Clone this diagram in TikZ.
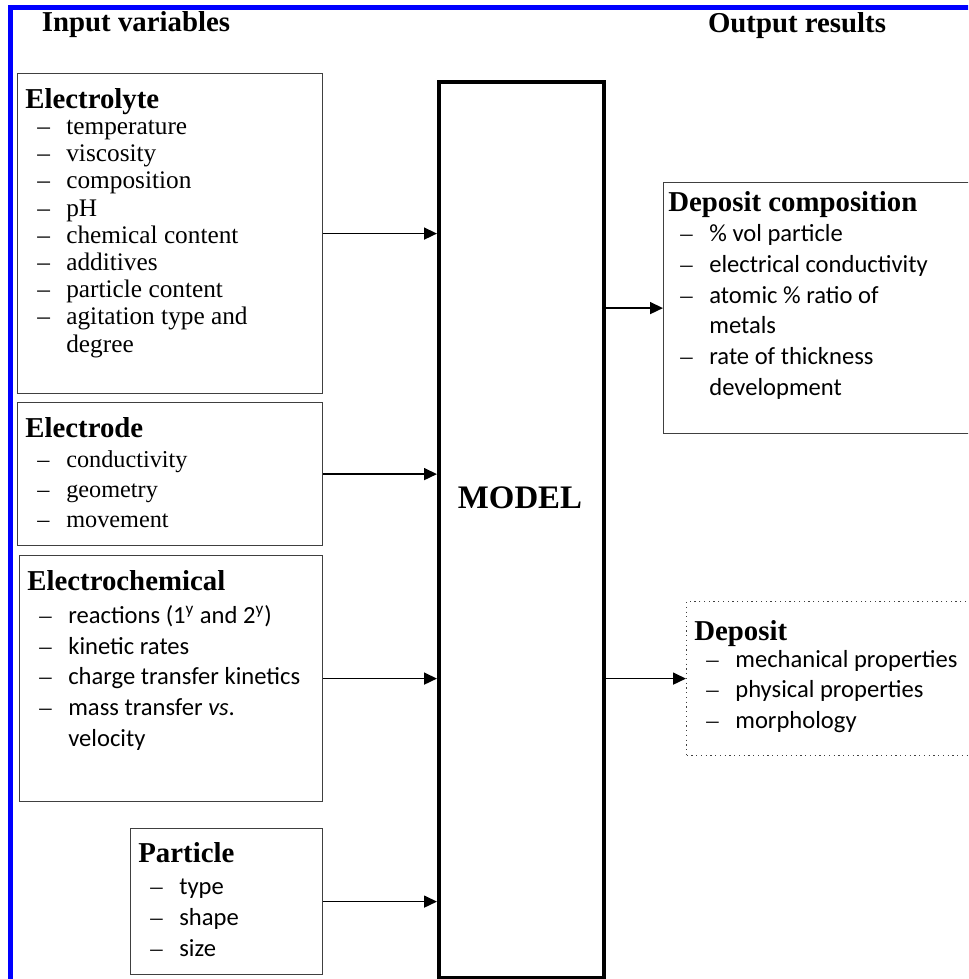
\documentclass[tikz,border=0pt]{standalone}
\usepackage{fontspec}
\setmainfont{Liberation Serif}
\newfontfamily\calibri{Carlito}
\usetikzlibrary{arrows.meta}
\newcommand{\dsh}{\makebox[0.82cm][l]{\hspace{0.24cm}{\rmfamily\textendash}}}
\newcommand{\cont}{\hspace{0.82cm}}
\newcommand{\hd}[1]{{\rmfamily\bfseries\fontsize{16.4}{17}\selectfont #1}}
\begin{document}
\begin{tikzpicture}[x=0.02cm,y=-0.02cm]
\tikzstyle{every node}+=[inner sep=0pt]
\tikzstyle{inbox}=[draw=black!75, line width=0.7pt, anchor=north west]
\tikzstyle{list}=[anchor=north west, align=left]
\tikzstyle{arr}=[line width=1pt, -{Triangle[length=7.4pt,width=6.8pt]}]
\useasboundingbox (0,0) rectangle (968,979);
\clip (0,0) rectangle (968,979);
\draw [blue, line width=0.1cm] (10.5,1100) -- (10.5,7.5) -- (1100,7.5);
\node [font=\bfseries\fontsize{16.4}{17}\selectfont, anchor=base] (inTitle) at (136,32) {Input variables};
\node [font=\bfseries\fontsize{16.4}{17}\selectfont, anchor=base] (outTitle) at (797,33) {Output results};
\node [draw, line width=0.08cm, anchor=north west, minimum width=3.3cm, minimum height=17.92cm] (model) at (437,80) {};
\node [font=\bfseries\fontsize{18.7}{20}\selectfont] (modelLbl) at (520,498) {MODEL};
\node [inbox, minimum width=6.1cm, minimum height=6.4cm] (elyte) at (17,73) {};
\node [list, font=\fontsize{14.4}{15.5}\selectfont] (elyteTxt) at (25,88) {\hd{Electrolyte}\\[-0.7pt]
\dsh temperature\\ \dsh viscosity\\ \dsh composition\\ \dsh pH\\ \dsh chemical content\\
\dsh additives\\ \dsh particle content\\ \dsh agitation type and\\ \cont degree};
\node [inbox, minimum width=6.1cm, minimum height=2.86cm] (electrode) at (17,402) {};
\node [list, font=\fontsize{13.8}{17}\selectfont] (electrodeTxt) at (25,417) {\hd{Electrode}\\[0.3pt]
\dsh conductivity\\ \dsh geometry\\ \dsh movement};
\node [inbox, minimum width=6.06cm, minimum height=4.92cm] (echem) at (19,555) {};
\node [list, font=\calibri\fontsize{14}{17.5}\selectfont] (echemTxt) at (27,570) {\hd{Electrochemical}\\[1.3pt]
\dsh reactions (1\textsuperscript{y} and 2\textsuperscript{y})\\ \dsh kinetic rates\\
\dsh charge transfer kinetics\\ \dsh mass transfer \textit{vs}.\\ \cont velocity};
\node [inbox, minimum width=3.84cm, minimum height=2.92cm] (particle) at (130,828) {};
\node [list, font=\calibri\fontsize{14}{17.6}\selectfont] (particleTxt) at (138,842) {\hd{Particle}\\[0.7pt]
\dsh type\\ \dsh shape\\ \dsh size};
\node [inbox, minimum width=6.4cm, minimum height=5.02cm] (depcomp) at (663,182) {};
\node [list, font=\calibri\fontsize{14}{17.6}\selectfont] (depcompTxt) at (668,191) {\hd{Deposit composition}\\[-0.6pt]
\dsh \% vol particle\\ \dsh electrical conductivity\\ \dsh atomic \% ratio of\\ \cont metals\\
\dsh rate of thickness\\ \cont development};
\node [inbox, dotted, minimum width=6cm, minimum height=3.08cm] (deposit) at (686,601) {};
\node [list, font=\calibri\fontsize{14}{17.6}\selectfont] (depositTxt) at (694,620) {\hd{Deposit}\\[-2.4pt]
\dsh mechanical properties\\ \dsh physical properties\\ \dsh morphology};
\draw [arr] (elyte.east) -- (elyte.east -| model.west);
\draw [arr] (electrode.east) -- (electrode.east -| model.west);
\draw [arr] (echem.east) -- (echem.east -| model.west);
\draw [arr] (particle.east) -- (particle.east -| model.west);
\draw [arr] (depcomp.west -| model.east) -- (depcomp.west);
\draw [arr] (deposit.west -| model.east) -- (deposit.west);
\end{tikzpicture}
\end{document}
